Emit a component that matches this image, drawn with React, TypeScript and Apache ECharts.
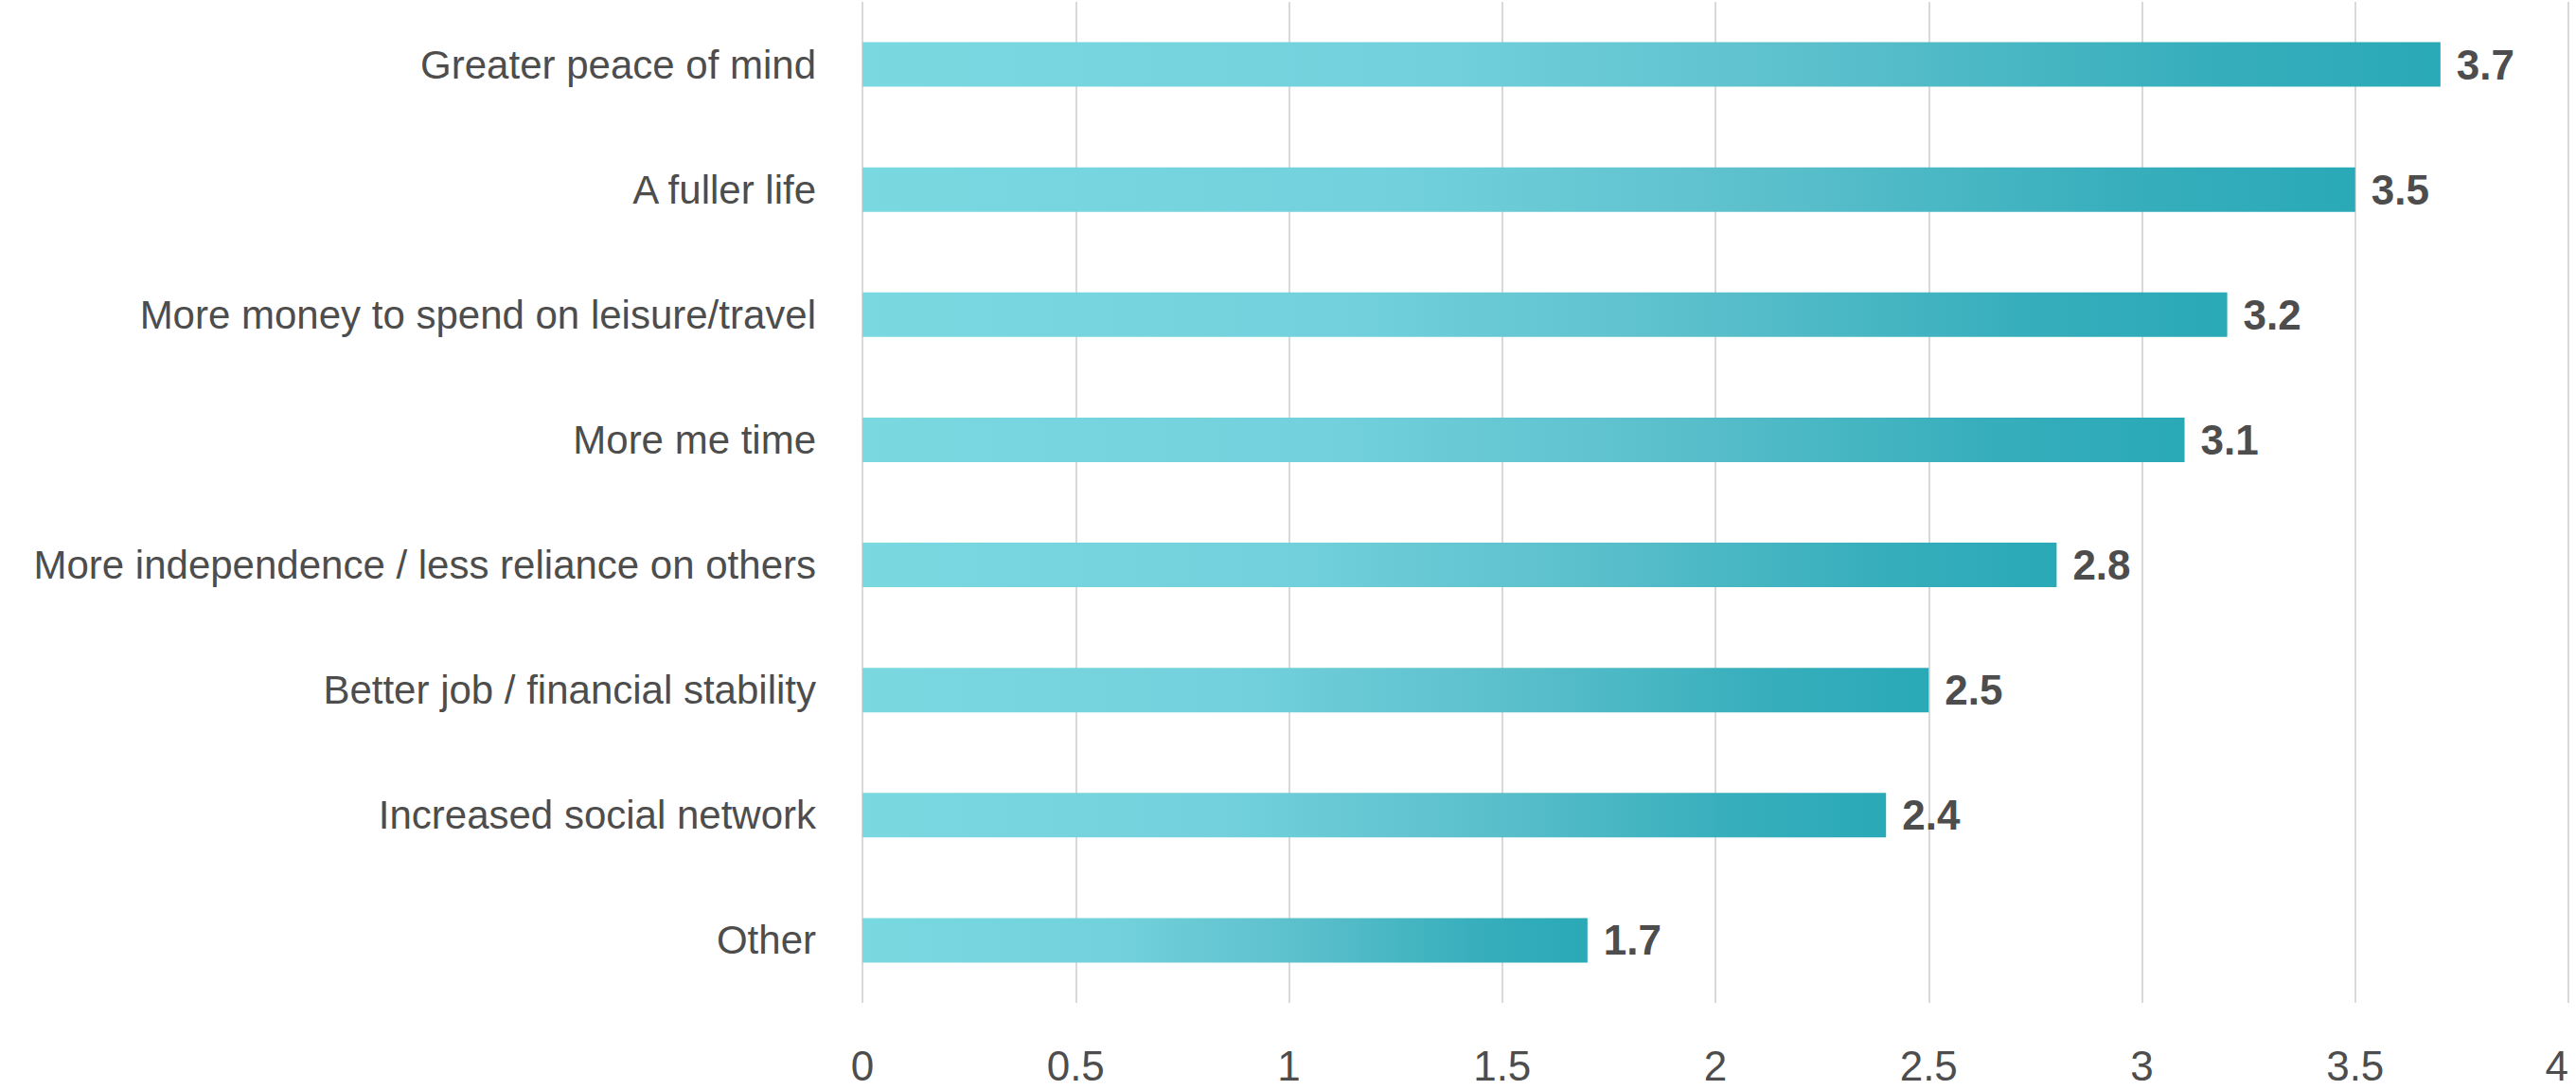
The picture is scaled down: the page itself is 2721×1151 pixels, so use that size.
import React, { useEffect, useRef } from "react";
import * as echarts from "echarts";

const categories: string[] = [
  "Greater peace of mind",
  "A fuller life",
  "More money to spend on leisure/travel",
  "More me time",
  "More independence / less reliance on others",
  "Better job / financial stability",
  "Increased social network",
  "Other",
];
const values: number[] = [3.7, 3.5, 3.2, 3.1, 2.8, 2.5, 2.4, 1.7];
const xTicks = { min: 0, max: 4, interval: 0.5 };

const FONT = "'Liberation Sans Narrow', 'Arial Narrow', 'Liberation Sans', Arial, sans-serif";
const TEXT = "#4d4d4d";

export default function App() {
  const ref = useRef<HTMLDivElement>(null);
  useEffect(() => {
    document.body.style.margin = "0";
    if (!ref.current) return;
    const chart = echarts.init(ref.current, undefined, { renderer: "svg" });
    chart.setOption({
      animation: false,
      backgroundColor: "#ffffff",
      grid: {
        left: 911,
        right: 8,
        top: 2,
        bottom: 92,
        containLabel: false,
        outerBoundsMode: "none",
      },
      xAxis: {
        type: "value",
        min: xTicks.min,
        max: xTicks.max,
        interval: xTicks.interval,
        axisLine: { show: false },
        axisTick: { show: false },
        splitLine: { show: true, lineStyle: { color: "#d9d9d9", width: 2 } },
        axisLabel: {
          color: TEXT,
          fontFamily: FONT,
          fontSize: 44,
          margin: 44,
          alignMaxLabel: "right",
        },
      },
      yAxis: {
        type: "category",
        data: categories,
        inverse: true,
        axisLine: { show: false },
        axisTick: { show: false },
        axisLabel: {
          color: TEXT,
          fontFamily: FONT,
          fontSize: 42,
          margin: 49,
        },
      },
      series: [
        {
          type: "bar",
          data: values,
          barWidth: 47,
          itemStyle: {
            color: new echarts.graphic.LinearGradient(0, 0, 1, 0, [
              { offset: 0, color: "#7ad8e1" },
              { offset: 0.35, color: "#72d1dc" },
              { offset: 0.6, color: "#5cc0cc" },
              { offset: 0.85, color: "#37aebc" },
              { offset: 1, color: "#2aa9b7" },
            ]),
          },
          label: {
            show: true,
            position: "right",
            distance: 17,
            color: TEXT,
            fontFamily: FONT,
            fontWeight: "bold",
            fontSize: 44,
          },
        },
      ],
    });
    return () => chart.dispose();
  }, []);
  return <div ref={ref} style={{ width: 2721, height: 1151 }} />;
}
